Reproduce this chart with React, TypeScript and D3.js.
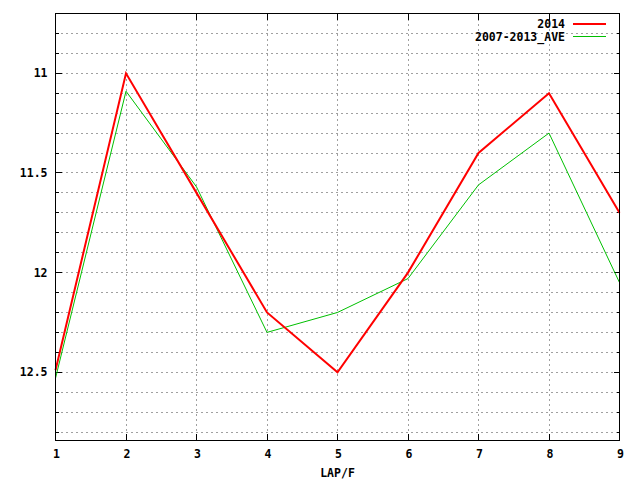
import React from "react";
import * as d3 from "d3";

const laps = [1, 2, 3, 4, 5, 6, 7, 8, 9];
const series2014 = [12.49, 11.0, 11.6, 12.2, 12.5, 12.0, 11.4, 11.1, 11.7];
const seriesAve = [12.53, 11.09, 11.57, 12.3, 12.2, 12.03, 11.56, 11.3, 12.05];
const yMajorTicks = [11, 11.5, 12, 12.5];
const yMinorTicks = [10.8, 10.9, 11, 11.1, 11.2, 11.3, 11.4, 11.5, 11.6, 11.7, 11.8, 11.9, 12, 12.1, 12.2, 12.3, 12.4, 12.5, 12.6, 12.7, 12.8];
const legendLabels = ["2014", "2007-2013_AVE"];
const xLabel = "LAP/F";

const W = 640;
const H = 480;
const left = 55.5;
const right = 619.5;
const top = 13.5;
const bottom = 440;
const FONT = "'DejaVu Sans Mono', 'Liberation Mono', monospace";

export default function App() {
  const x = d3.scaleLinear().domain([1, 9]).range([left, right]);
  const y = d3.scaleLinear().domain([10.7, 12.84]).range([top, bottom]);
  const line = d3
    .line<number>()
    .x((_, i) => x(laps[i]))
    .y((d) => y(d));

  const snap = (v: number) => Math.round(v - 0.5) + 0.5;

  return (
    <svg
      width={W}
      height={H}
      style={{ position: "absolute", left: 0, top: 0, background: "#fff" }}
      fontFamily={FONT}
      fontWeight="bold"
      fontSize={11.5}
    >
      <rect x={0} y={0} width={W} height={H} fill="#fff" />
      {/* grid */}
      <g stroke="#a0a0a0" strokeWidth={1} strokeDasharray="2,3" shapeRendering="crispEdges">
        {yMinorTicks.map((t) => (
          <line key={"gy" + t} x1={left} x2={right} y1={snap(y(t))} y2={snap(y(t))} />
        ))}
        {laps.slice(1, -1).map((t) => (
          <line key={"gx" + t} x1={snap(x(t))} x2={snap(x(t))} y1={top} y2={bottom} />
        ))}
      </g>
      {/* ticks */}
      <g stroke="#000" strokeWidth={1} shapeRendering="crispEdges">
        {yMinorTicks.map((t) => {
          const major = yMajorTicks.some((m) => Math.abs(m - t) < 1e-6);
          const len = major ? 6 : 3;
          const yy = snap(y(t));
          return (
            <g key={"ty" + t}>
              <line x1={left} x2={left + len} y1={yy} y2={yy} />
              <line x1={right} x2={right - len} y1={yy} y2={yy} />
            </g>
          );
        })}
        {laps.map((t) => {
          const xx = snap(x(t));
          return (
            <g key={"tx" + t}>
              <line x1={xx} x2={xx} y1={bottom} y2={bottom - 6} />
              <line x1={xx} x2={xx} y1={top} y2={top + 6} />
            </g>
          );
        })}
      </g>
      {/* tick labels */}
      <g fill="#000">
        {yMajorTicks.map((t) => (
          <text key={"ly" + t} x={47.5} y={y(t)} dy="0.35em" textAnchor="end">
            {String(t)}
          </text>
        ))}
        {laps.map((t) => (
          <text key={"lx" + t} x={x(t) + 1} y={454} dy="0.35em" textAnchor="middle">
            {String(t)}
          </text>
        ))}
        <text x={(left + right) / 2} y={473} dy="0.35em" textAnchor="middle">
          {xLabel}
        </text>
      </g>
      {/* data lines */}
      <path d={line(seriesAve) || ""} fill="none" stroke="#00c000" strokeWidth={1} />
      <path d={line(series2014) || ""} fill="none" stroke="#ff0000" strokeWidth={2} strokeLinejoin="miter" />
      {/* border */}
      <rect x={left} y={top} width={right - left} height={bottom - top} fill="none" stroke="#000" strokeWidth={1} shapeRendering="crispEdges" />
      {/* legend */}
      <g>
        <text x={565} y={24} dy="0.35em" textAnchor="end">{legendLabels[0]}</text>
        <line x1={573} x2={606} y1={24} y2={24} stroke="#ff0000" strokeWidth={2} />
        <text x={565} y={36.5} dy="0.35em" textAnchor="end">{legendLabels[1]}</text>
        <line x1={573} x2={606} y1={36.5} y2={36.5} stroke="#00c000" strokeWidth={1} />
      </g>
    </svg>
  );
}
